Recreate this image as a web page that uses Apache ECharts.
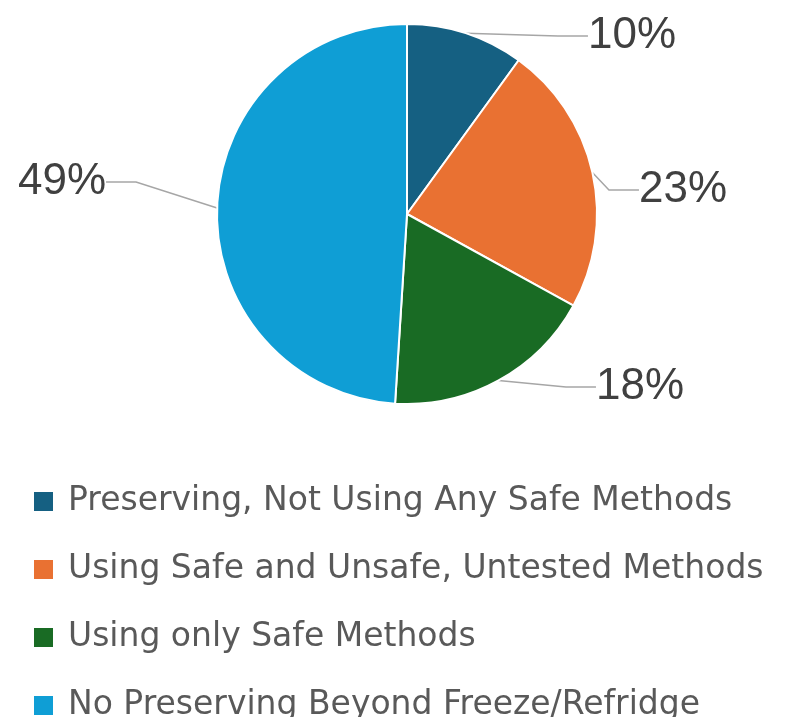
<!DOCTYPE html>
<html><head><meta charset="utf-8">
<script src="https://cdn.jsdelivr.net/npm/echarts@6/dist/echarts.min.js"></script>
<style>html,body{margin:0;padding:0;background:#fff}#c{width:805px;height:717px}</style>
</head><body><div id="c"></div>
<script>
const categories = [
  'Preserving, Not Using Any Safe Methods',
  'Using Safe and Unsafe, Untested Methods',
  'Using only Safe Methods',
  'No Preserving Beyond Freeze/Refridge'
];
const values = [10, 23, 18, 49];
const colors = ['#156082', '#E97132', '#196B24', '#0F9ED5'];
const labelPos = [[632, 36], [683, 190], [640, 387], [62, 182]];

const chart = echarts.init(document.getElementById('c'));
chart.setOption({
  animation: false,
  color: colors,
  legend: {
    orient: 'vertical',
    left: 27,
    top: 480,
    height: 300,
    icon: 'rect',
    itemWidth: 21,
    itemHeight: 21,
    itemGap: 35,
    textStyle: { fontFamily: 'DejaVu Sans', fontSize: 33, color: '#595959', padding: [0, 0, 0, 9] },
    data: categories
  },
  series: [{
    type: 'pie',
    center: [407, 214],
    radius: 190,
    startAngle: 90,
    clockwise: true,
    data: categories.map((c, i) => ({ name: c, value: values[i] })),
    itemStyle: { borderColor: '#fff', borderWidth: 2 },
    label: {
      show: true,
      formatter: p => Math.round(p.percent) + '%',
      fontFamily: 'Liberation Sans',
      fontSize: 44,
      color: '#404040'
    },
    labelLine: { show: true, lineStyle: { color: '#a6a6a6', width: 1.5 } },
    labelLayout: p => ({ x: labelPos[p.dataIndex][0], y: labelPos[p.dataIndex][1], align: 'center', verticalAlign: 'middle' })
  }]
});
</script></body></html>
